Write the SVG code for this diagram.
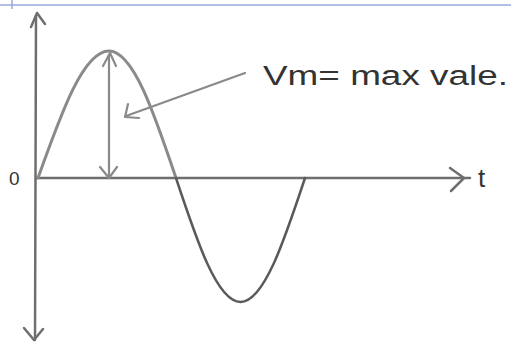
<svg xmlns="http://www.w3.org/2000/svg" width="511" height="348" viewBox="0 0 511 348">
  <defs>
    <style>
      .ax { fill: none; stroke: #6e6e6e; stroke-width: 2.5; stroke-linecap: round; stroke-linejoin: round; }
      .wave { fill: none; stroke: #8a8a8a; stroke-width: 3; stroke-linecap: round; stroke-linejoin: round; }
      .wave2 { fill: none; stroke: #5a5a5a; stroke-width: 2.5; stroke-linecap: round; stroke-linejoin: round; }
      .ann { fill: none; stroke: #8a8a8a; stroke-width: 2.2; stroke-linecap: round; stroke-linejoin: round; }
      .lbl { font-family: "Liberation Sans", Arial, sans-serif; fill: #333333; }
    </style>
  </defs>
  <rect width="511" height="348" fill="#ffffff"/>
  <g id="frame">
    <line x1="0" y1="5" x2="511" y2="5" stroke="#9aa8d8" stroke-width="1.5"/>
    <line x1="12" y1="0" x2="12" y2="9" stroke="#9aa8d8" stroke-width="1.5"/>
  </g>
  <g id="connectors">
    <g id="y-axis">
      <path class="ax" d="M36,16 L35,340"/>
      <path class="ax" d="M31,27 L37,13 L45,24"/>
      <path class="ax" d="M24,328 L34,340 L43,329"/>
    </g>
    <g id="x-axis">
      <path class="ax" d="M36,178 L470,178"/>
      <path class="ax" d="M450,168 L464,178 L451,191"/>
    </g>
    <g id="vm-marker">
      <path class="ann" d="M109,55 L109,177"/>
      <path class="ann" d="M103,66 L110,53 L116,66"/>
      <path class="ann" d="M100,167 L109,178 L117,167"/>
    </g>
    <g id="pointer">
      <path class="ann" d="M245,73 L126,116"/>
      <path class="ann" d="M128,104 L125,117 L139,118"/>
    </g>
  </g>
  <g id="positive-half">
    <path class="wave" d="M38,178 C61.2,112.9 83.3,51 109,51 C133.2,51 154.1,112.9 176,178"/>
  </g>
  <g id="negative-half">
    <path class="wave2" d="M176,178 C197,241.5 217.2,302 240.5,302 C263.8,302 284,241.5 305,178"/>
  </g>
  <g id="labels">
    <text class="lbl" x="9" y="185" font-size="19">0</text>
    <text class="lbl" x="478" y="187" font-size="26">t</text>
    <text class="lbl" x="263" y="85" font-size="27" textLength="245" lengthAdjust="spacingAndGlyphs">Vm= max vale.</text>
  </g>
</svg>
